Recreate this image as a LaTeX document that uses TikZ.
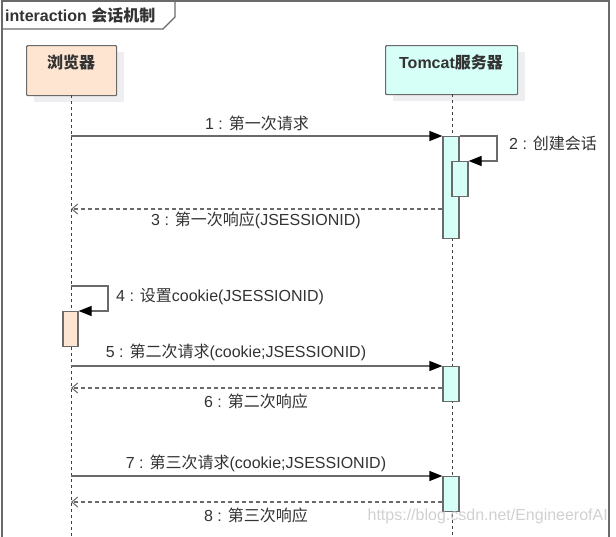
\documentclass[tikz,border=0pt]{standalone}
\usepackage{fontspec}
\setmainfont{Liberation Sans}
\newfontfamily\cjk[Scale=1.0]{Noto Sans CJK SC}
\newcommand\zh[1]{{\cjk #1}}
\usetikzlibrary{arrows.meta}
\definecolor{peach}{HTML}{FDE5D2}
\definecolor{aqua}{HTML}{D6FFF7}
\definecolor{linec}{HTML}{6A6A6A}
\definecolor{txt}{HTML}{333333}
\definecolor{shade}{HTML}{EEEEF0}
\begin{document}
\begin{tikzpicture}[x=1pt,y=-1pt,
  font=\fontsize{16}{19}\selectfont,
  every node/.style={text=txt},
  frameline/.style={draw=linec,line width=1.2pt},
  partbox/.style={draw=linec,line width=1.2pt,rounded corners=1pt,anchor=north west,inner sep=0pt},
  shadowbox/.style={fill=shade,anchor=north west,inner sep=0pt},
  parttext/.style={font=\bfseries\fontsize{16}{19}\selectfont,inner sep=0pt},
  life/.style={draw=black!75,line width=1pt,dash pattern=on 3pt off 3pt},
  actbox/.style={draw=linec,line width=1.2pt,minimum width=16pt,anchor=north,inner sep=0pt},
  msg/.style={draw=linec,line width=1.2pt,-{Triangle[length=13pt,width=10pt,color=black]}},
  reply/.style={draw=linec,line width=1.1pt,dash pattern=on 4pt off 3pt,-{Straight Barb[length=6pt,width=10pt,line width=1pt]}},
  lbl/.style={inner sep=0pt}
]
\useasboundingbox (0,0) rectangle (616,536);
\clip (0,0) rectangle (616,536);
\fill[white] (0,0) rectangle (616,536);

% frame
\draw[frameline] (2,545) -- (2,1) -- (609,1) -- (609,545);
\draw[frameline] (2,29) -- (163,29) -- (175,17) -- (175,1);
\node[anchor=west,inner sep=0pt,font=\bfseries\fontsize{16}{19}\selectfont] (title) at (5,15) {interaction \zh{会话机制}};

% participants
\node[shadowbox,minimum width=90pt,minimum height=50pt] (brS) at (34,52) {};
\node[shadowbox,minimum width=132pt,minimum height=49pt] (tcS) at (393,52) {};
\node[partbox,fill=peach,minimum width=90pt,minimum height=50pt] (br) at (26,45) {};
\node[partbox,fill=aqua,minimum width=132pt,minimum height=49pt] (tc) at (385,45) {};
\node[parttext] (brT) at (71,62) {\zh{浏览器}};
\node[parttext] (tcT) at (451,62) {Tomcat\zh{服务器}};

% lifelines
\coordinate (brEnd) at (71,545);
\coordinate (tcEnd) at (452,545);
\draw[life] (71,95) -- (brEnd);
\draw[life] (452,94) -- (tcEnd);

% activations
\node[actbox,fill=aqua,minimum height=102pt] (a1) at (451,136) {};
\node[actbox,fill=aqua,minimum height=35pt] (a2) at (460,161) {};
\node[actbox,fill=peach,minimum height=35pt,minimum width=15pt] (ab) at (70.5,311) {};
\node[actbox,fill=aqua,minimum height=35pt] (a5) at (451,366) {};
\node[actbox,fill=aqua,minimum height=35pt] (a7) at (451,476) {};

% coordinates on browser lifeline
\coordinate (b1) at (71,136);
\coordinate (b3) at (71,209);
\coordinate (b4) at (71,286);
\coordinate (b5) at (71,366);
\coordinate (b6) at (71,388);
\coordinate (b7) at (71,476);
\coordinate (b8) at (71,502);

% messages
\draw[msg] (b1) -- (a1.north west);
\node[lbl] (l1) at (257,123) {1 : \zh{第一次请求}};

\draw[msg] (a1.north east) -- (497,136) -- (497,161) -- (a2.north east);
\node[lbl,anchor=west] (l2) at (509,143) {2 : \zh{创建会话}};

\draw[reply] (a1.west |- b3) -- (b3);
\node[lbl] (l3) at (256,220) {3 : \zh{第一次响应}(JSESSIONID)};

\draw[msg] (b4) -- (108,286) -- (108,311) -- (ab.north east);
\node[lbl,anchor=west] (l4) at (116,297) {4 : \zh{设置}cookie(JSESSIONID)};

\draw[msg] (b5) -- (a5.north west);
\node[lbl] (l5) at (236,352) {5 : \zh{第二次请求}(cookie;JSESSIONID)};

\draw[reply] (a5.west |- b6) -- (b6);
\node[lbl] (l6) at (256,401) {6 : \zh{第二次响应}};

\draw[msg] (b7) -- (a7.north west);
\node[lbl] (l7) at (256,463) {7 : \zh{第三次请求}(cookie;JSESSIONID)};

\draw[reply] (a7.west |- b8) -- (b8);
\node[lbl] (l8) at (256,515) {8 : \zh{第三次响应}};

% watermark
\node[lbl,anchor=east,text=black!18] (wm) at (608,516) {https://blog.csdn.net/EngineerofAI};
\end{tikzpicture}
\end{document}
